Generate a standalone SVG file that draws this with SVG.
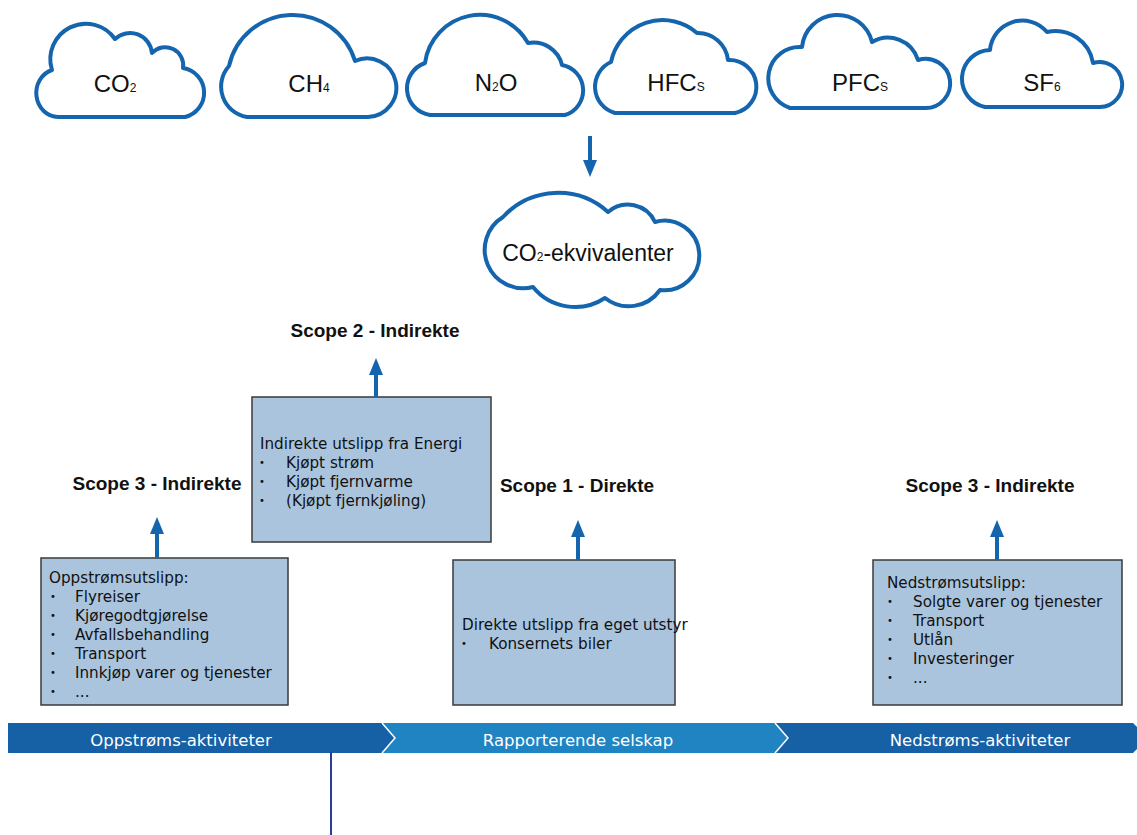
<svg xmlns="http://www.w3.org/2000/svg" width="1137" height="835" viewBox="0 0 1137 835">
<style>
.cloud{fill:#fff;stroke:#1565ae;stroke-width:4;stroke-linejoin:round}
.ctext{font-family:"Liberation Sans",Arial,sans-serif;font-size:24px;fill:#111;text-anchor:middle}
.sub{font-size:12px}
.box{fill:#aac4dd;stroke:#3a3a3a;stroke-width:1.5}
.btext{font-family:"DejaVu Sans",sans-serif;font-size:15.2px;fill:#111}
.bul{font-family:"DejaVu Sans",sans-serif;font-size:10px;fill:#111}
.scope{font-family:"Liberation Sans",Arial,sans-serif;font-weight:bold;font-size:19px;fill:#111;text-anchor:middle}
.arrow{stroke:#1565ae;stroke-width:4;fill:none;marker-end:url(#ah)}
.bartext{font-family:"DejaVu Sans",sans-serif;font-size:16.5px;fill:#fff;text-anchor:middle}
.sep{fill:none;stroke:#fff;stroke-width:1.5}
</style>
<defs>
<marker id="ah" markerUnits="userSpaceOnUse" markerWidth="18" markerHeight="14" refX="5" refY="7" orient="auto">
<path d="M0,0 L17,7 L0,14 Z" fill="#1565ae"/>
</marker>
</defs>
<rect width="1137" height="835" fill="#fff"/>

<g id="cloud-co2">
<path class="cloud" d="M58,117 A22,24 0 0 1 52,70 A35.5,35.5 0 0 1 115,39 A22,22 0 0 1 152,53 A18,18 0 0 1 183,68 A25,25 0 0 1 185,117 Z"/>
<text class="ctext" x="115" y="92">CO<tspan class="sub">2</tspan></text>
</g>
<g id="cloud-ch4">
<path class="cloud" d="M247,117 A30.8,30.8 0 0 1 229,66 A65.2,65.2 0 0 1 355,61 A29.3,29.3 0 1 1 368,117 Z"/>
<text class="ctext" x="309" y="92">CH<tspan class="sub">4</tspan></text>
</g>
<g id="cloud-n2o">
<path class="cloud" d="M430,115 A26.9,26.9 0 0 1 425,63 A55.3,55.3 0 0 1 528,43 A29.5,29.5 0 0 1 562,65 A25.8,25.8 0 0 1 565,115 Z"/>
<text class="ctext" x="496" y="91">N<tspan class="sub">2</tspan>O</text>
</g>
<g id="cloud-hfcs">
<path class="cloud" d="M615,113 A27.2,27.2 0 0 1 611,62 A52.6,52.6 0 0 1 697,33 A30.3,30.3 0 0 1 728,60 A26.8,26.8 0 0 1 735,113 Z"/>
<text class="ctext" x="676" y="91">HFC<tspan class="sub">S</tspan></text>
</g>
<g id="cloud-pfcs">
<path class="cloud" d="M790,108 A31.3,31.3 0 0 1 802,47 A35.6,35.6 0 0 1 872,42 A31.4,31.4 0 0 1 918,60 A24.6,24.6 0 1 1 925,108 Z"/>
<text class="ctext" x="860" y="91">PFC<tspan class="sub">S</tspan></text>
</g>
<g id="cloud-sf6">
<path class="cloud" d="M985,107 A28.8,28.8 0 0 1 990,50 A32.4,32.4 0 0 1 1047,32 A38,38 0 0 1 1093,63 A22.5,22.5 0 1 1 1100,107 Z"/>
<text class="ctext" x="1042" y="91">SF<tspan class="sub">6</tspan></text>
</g>
<g id="cloud-co2e">
<path class="cloud" d="M533,287 A38.5,38.5 0 0 1 503,217 A74.8,74.8 0 0 1 608,212 A30,30 0 0 1 655,222 A34.8,34.8 0 1 1 660,290 A38.2,38.2 0 0 1 605,298 A54.3,54.3 0 0 1 533,287 Z"/>
<text class="ctext" x="588" y="261" style="font-size:23px">CO<tspan class="sub">2</tspan>-ekvivalenter</text>
</g>

<g id="label-scope2"><text class="scope" x="375" y="337">Scope 2 - Indirekte</text></g>
<g id="label-scope3-up"><text class="scope" x="157" y="490">Scope 3 - Indirekte</text></g>
<g id="label-scope1"><text class="scope" x="577" y="492">Scope 1 - Direkte</text></g>
<g id="label-scope3-down"><text class="scope" x="990" y="492">Scope 3 - Indirekte</text></g>

<g id="box-scope2">
<rect class="box" x="252" y="397" width="239" height="145"/>
<text class="btext" x="260" y="449">Indirekte utslipp fra Energi</text>
<text class="bul" x="259" y="466">•</text><text class="btext" x="286" y="468">Kjøpt strøm</text>
<text class="bul" x="259" y="485">•</text><text class="btext" x="286" y="487">Kjøpt fjernvarme</text>
<text class="bul" x="259" y="504">•</text><text class="btext" x="286" y="506">(Kjøpt fjernkjøling)</text>
</g>

<g id="box-upstream">
<rect class="box" x="41" y="558" width="247" height="147"/>
<text class="btext" x="49" y="583">Oppstrømsutslipp:</text>
<text class="bul" x="50" y="600">•</text><text class="btext" x="75" y="602">Flyreiser</text>
<text class="bul" x="50" y="619">•</text><text class="btext" x="75" y="621">Kjøregodtgjørelse</text>
<text class="bul" x="50" y="638">•</text><text class="btext" x="75" y="640">Avfallsbehandling</text>
<text class="bul" x="50" y="657">•</text><text class="btext" x="75" y="659">Transport</text>
<text class="bul" x="50" y="676">•</text><text class="btext" x="75" y="678">Innkjøp varer og tjenester</text>
<text class="bul" x="50" y="695">•</text><text class="btext" x="75" y="697">...</text>
</g>

<g id="box-direct">
<rect class="box" x="453" y="560" width="222" height="145"/>
<text class="btext" x="462" y="630">Direkte utslipp fra eget utstyr</text>
<text class="bul" x="461" y="647">•</text><text class="btext" x="489" y="649">Konsernets biler</text>
</g>

<g id="box-downstream">
<rect class="box" x="873" y="560" width="249" height="145"/>
<text class="btext" x="887" y="588">Nedstrømsutslipp:</text>
<text class="bul" x="887" y="605">•</text><text class="btext" x="913" y="607">Solgte varer og tjenester</text>
<text class="bul" x="887" y="624">•</text><text class="btext" x="913" y="626">Transport</text>
<text class="bul" x="887" y="643">•</text><text class="btext" x="913" y="645">Utlån</text>
<text class="bul" x="887" y="662">•</text><text class="btext" x="913" y="664">Investeringer</text>
<text class="bul" x="887" y="681">•</text><text class="btext" x="913" y="683">...</text>
</g>

<g id="connectors">
<line class="arrow" x1="590" y1="136" x2="590" y2="165"/>
<line class="arrow" x1="376" y1="397" x2="376" y2="370"/>
<line class="arrow" x1="157" y1="558" x2="157" y2="529"/>
<line class="arrow" x1="578" y1="560" x2="578" y2="532"/>
<line class="arrow" x1="997" y1="560" x2="997" y2="532"/>
</g>

<g id="value-chain-bar">
<polygon points="8,723 382,723 395,738 382,753 8,753" fill="#1660a5"/>
<polygon points="382,723 775,723 788,738 775,753 382,753 395,738" fill="#2184c2"/>
<polygon points="775,723 1133,723 1137,727 1137,749 1133,753 775,753 788,738" fill="#1660a5"/>
<polyline class="sep" points="382,723 395,738 382,753"/>
<polyline class="sep" points="775,723 788,738 775,753"/>
<text class="bartext" x="181" y="746">Oppstrøms-aktiviteter</text>
<text class="bartext" x="578" y="746">Rapporterende selskap</text>
<text class="bartext" x="980" y="746">Nedstrøms-aktiviteter</text>
</g>
<line x1="331" y1="752" x2="331" y2="835" stroke="#2b3d96" stroke-width="2"/>
</svg>
